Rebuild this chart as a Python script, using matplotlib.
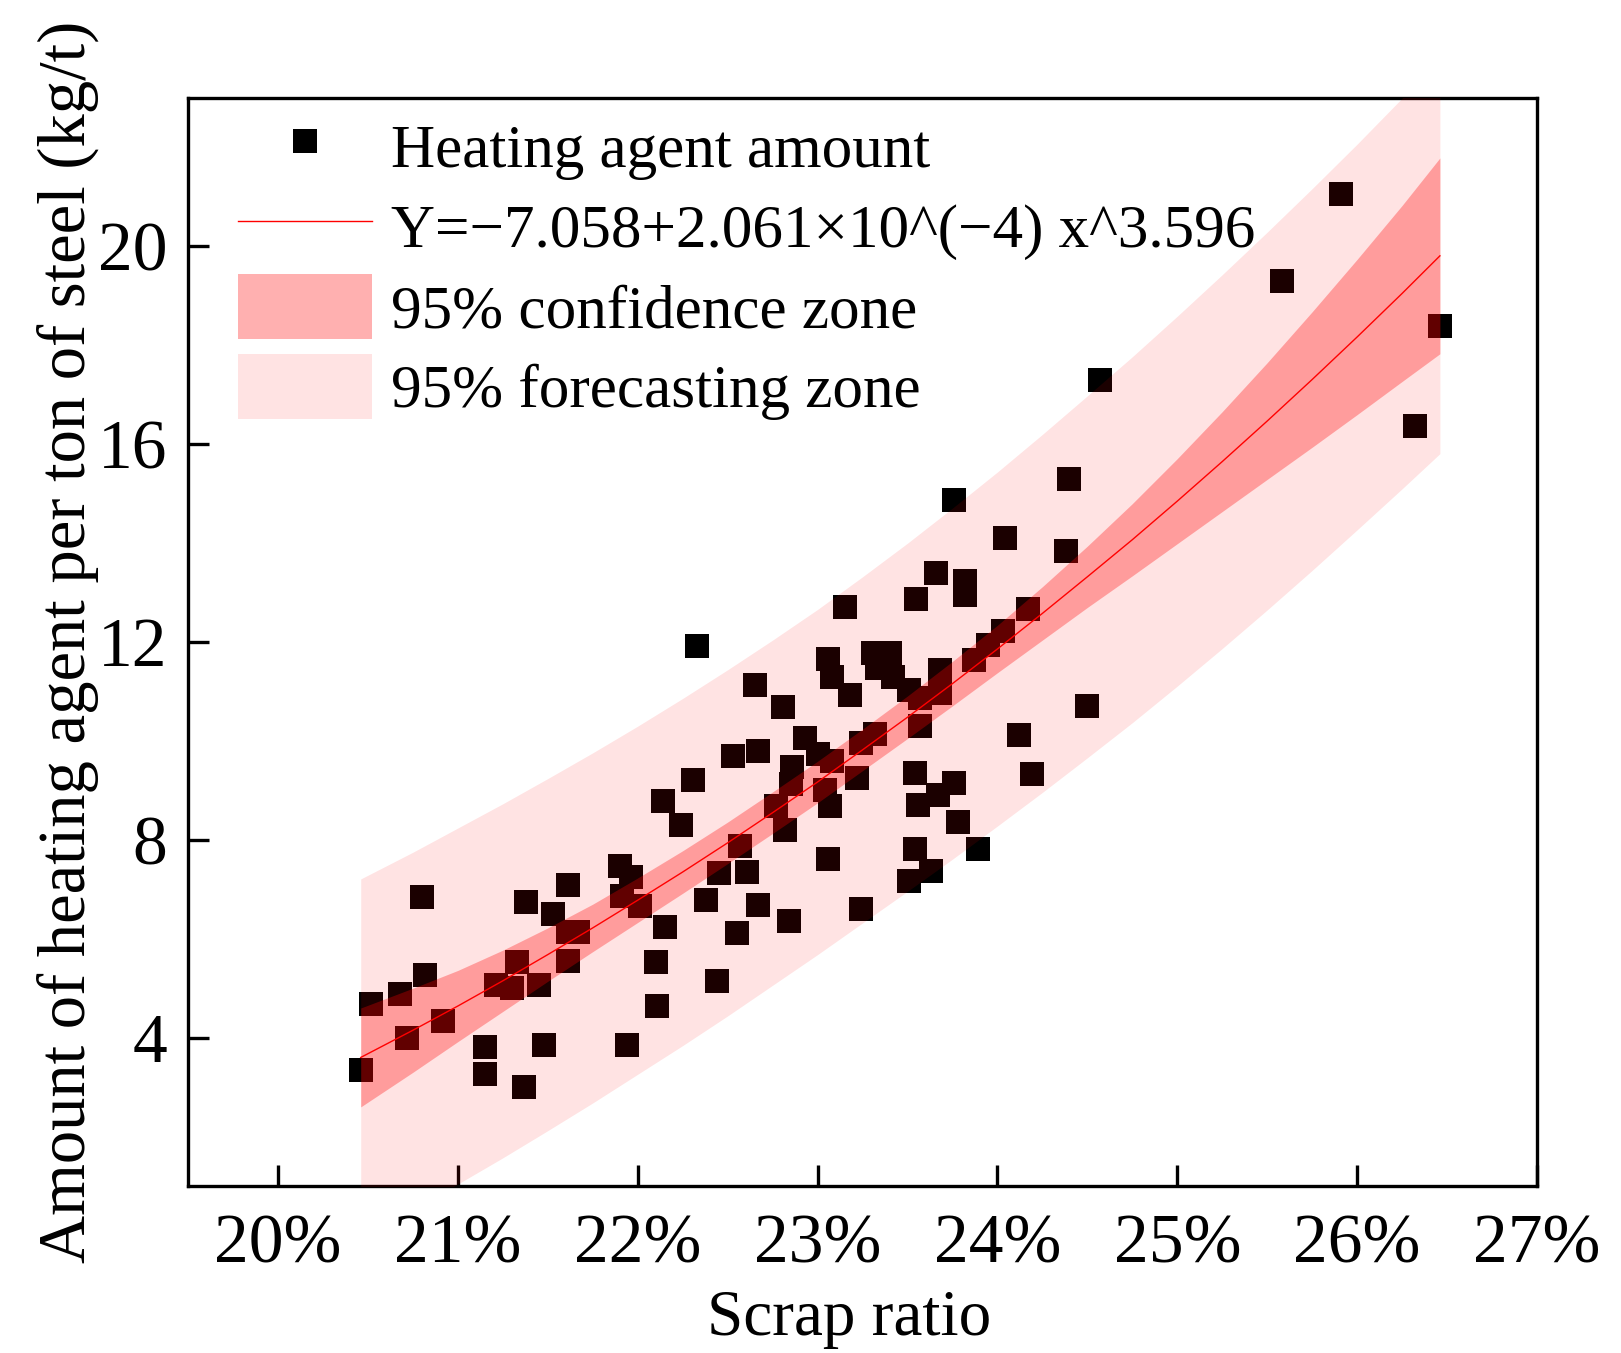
import matplotlib
matplotlib.use("Agg")
import matplotlib.pyplot as plt
from matplotlib.lines import Line2D
from matplotlib.patches import Patch

# scatter: scrap ratio (%) vs heating agent (kg/t)
scrap = [20.46, 20.52, 20.68, 20.72, 20.82, 20.80, 20.92, 21.15, 21.15, 21.21,
         21.33, 21.30, 21.37, 21.38, 21.45, 21.48, 21.53, 21.61, 21.61, 21.61,
         21.67, 21.90, 21.96, 21.91, 22.01, 21.94, 22.10, 22.11, 22.15, 22.14,
         22.24, 22.31, 22.33, 22.38, 22.44, 22.45, 22.55, 22.57, 22.61, 22.53,
         22.65, 22.67, 22.67, 22.77, 22.81, 22.82, 22.84, 22.86, 22.85, 22.93,
         23.00, 23.06, 23.06, 23.08, 23.18, 23.07, 23.15, 23.24, 23.24, 23.22,
         23.08, 23.04, 23.31, 23.32, 23.40, 23.33, 23.42, 23.55, 23.54, 23.56,
         23.54, 23.51, 23.57, 23.57, 23.51, 23.63, 23.67, 23.66, 23.68, 23.68,
         23.76, 23.76, 23.78, 23.82, 23.82, 23.87, 23.89, 23.95, 24.03, 24.04,
         24.12, 24.17, 24.19, 24.38, 24.40, 24.50, 24.57, 25.58, 25.91, 26.32,
         26.46]
heat = [3.34, 4.69, 4.88, 4.00, 5.26, 6.85, 4.33, 3.82, 3.26, 5.06,
        5.53, 5.01, 3.01, 6.74, 5.07, 3.86, 6.51, 7.09, 5.55, 6.14,
        6.13, 7.47, 7.24, 6.87, 6.67, 3.86, 5.54, 4.65, 6.23, 8.78,
        8.30, 9.22, 11.92, 6.78, 5.15, 7.34, 6.12, 7.88, 7.36, 9.70,
        11.13, 9.79, 6.68, 8.69, 10.69, 8.19, 6.35, 9.48, 9.12, 10.05,
        9.74, 7.61, 11.65, 11.30, 10.92, 8.68, 12.70, 9.95, 6.61, 9.25,
        9.60, 9.00, 11.78, 10.14, 11.78, 11.48, 11.30, 12.88, 9.35, 8.71,
        7.82, 7.17, 10.86, 10.30, 11.03, 7.38, 8.91, 13.40, 11.43, 10.96,
        14.88, 9.14, 8.37, 13.24, 12.95, 11.64, 7.82, 11.95, 12.23, 14.11,
        10.12, 12.67, 9.33, 13.85, 15.30, 10.71, 17.29, 19.31, 21.07, 16.37,
        18.40]

# fitted curve and zones, read along the x axis
curve_x = [20.46, 20.75, 21.0, 21.25, 21.5, 21.75, 22.0, 22.25, 22.5, 22.75,
           23.0, 23.25, 23.5, 23.75, 24.0, 24.25, 24.5, 24.75, 25.0, 25.25,
           25.5, 25.75, 26.0, 26.25, 26.46]
fit_y = [3.60, 4.15, 4.64, 5.15, 5.68, 6.22, 6.78, 7.35, 7.94, 8.55,
         9.17, 9.82, 10.48, 11.16, 11.86, 12.58, 13.32, 14.07, 14.85, 15.65,
         16.47, 17.31, 18.17, 19.05, 19.81]
conf_lo = [2.60, 3.30, 3.92, 4.53, 5.14, 5.74, 6.33, 6.92, 7.52, 8.13,
           8.75, 9.40, 10.05, 10.71, 11.38, 12.04, 12.70, 13.34, 13.99, 14.64,
           15.29, 15.94, 16.60, 17.27, 17.83]
conf_hi = [4.60, 5.00, 5.36, 5.77, 6.22, 6.70, 7.23, 7.78, 8.36, 8.97,
           9.59, 10.24, 10.91, 11.61, 12.34, 13.12, 13.94, 14.80, 15.71, 16.66,
           17.65, 18.68, 19.74, 20.83, 21.79]
pred_lo = [-0.01, 0.55, 1.04, 1.57, 2.12, 2.68, 3.26, 3.84, 4.44, 5.06,
           5.68, 6.32, 6.96, 7.61, 8.28, 8.96, 9.66, 10.37, 11.11, 11.87,
           12.65, 13.45, 14.27, 15.10, 15.81]
pred_hi = [7.21, 7.75, 8.24, 8.73, 9.24, 9.76, 10.30, 10.86, 11.44, 12.04,
           12.66, 13.32, 14.00, 14.71, 15.44, 16.20, 16.98, 17.77, 18.59, 19.43,
           20.29, 21.17, 22.07, 23.00, 23.81]

x_ticks = [20, 21, 22, 23, 24, 25, 26, 27]
x_ticklabels = ['20%', '21%', '22%', '23%', '24%', '25%', '26%', '27%']
y_ticks = [4, 8, 12, 16, 20]

plt.rcParams['font.family'] = ['Liberation Serif', 'DejaVu Serif']

fig = plt.figure(figsize=(16.21, 13.53), dpi=100)
ax = fig.add_axes([0.116, 0.1234, 0.8322, 0.8041])

ax.scatter(scrap, heat, marker='s', s=17.5 ** 2, c='black', linewidths=0, zorder=2)
ax.fill_between(curve_x, pred_lo, pred_hi, color='red', alpha=0.11, linewidth=0, zorder=3)
ax.fill_between(curve_x, conf_lo, conf_hi, color='red', alpha=0.31, linewidth=0, zorder=4)
ax.plot(curve_x, fit_y, color='red', lw=1.0, zorder=5)

ax.set_xlim(19.5, 27)
ax.set_ylim(1, 23)
ax.set_xticks(x_ticks)
ax.set_xticklabels(x_ticklabels)
ax.set_yticks(y_ticks)
ax.tick_params(direction='in', length=15, width=2.4, labelsize=50)
ax.tick_params(axis='x', pad=20)
ax.tick_params(axis='y', pad=15)
for sp in ax.spines.values():
    sp.set_linewidth(2.4)

ax.set_xlabel('Scrap ratio', fontsize=47, labelpad=9)
ax.xaxis.label.set_x(0.49)
ax.set_ylabel('Amount of heating agent per ton of steel (kg/t)', fontsize=48)
ax.yaxis.set_label_coords(-0.066, 0.5)

handles = [
    Line2D([], [], marker='s', ls='none', color='black', markersize=17, markeredgewidth=0),
    Line2D([], [], color='red', lw=1.0),
    Patch(facecolor='red', alpha=0.31, linewidth=0),
    Patch(facecolor='red', alpha=0.11, linewidth=0),
]
labels = ['Heating agent amount',
          'Y=\u22127.058+2.061\u00d710^(\u22124) x^3.596',
          '95% confidence zone',
          '95% forecasting zone']
ax.legend(handles, labels, loc='upper left', bbox_to_anchor=(0.037, 0.985),
          frameon=False, fontsize=44, handlelength=2.2, handleheight=1.25,
          handletextpad=0.3, labelspacing=0.23, borderpad=0, borderaxespad=0,
          numpoints=1)

fig.savefig('out.png', dpi=100)
